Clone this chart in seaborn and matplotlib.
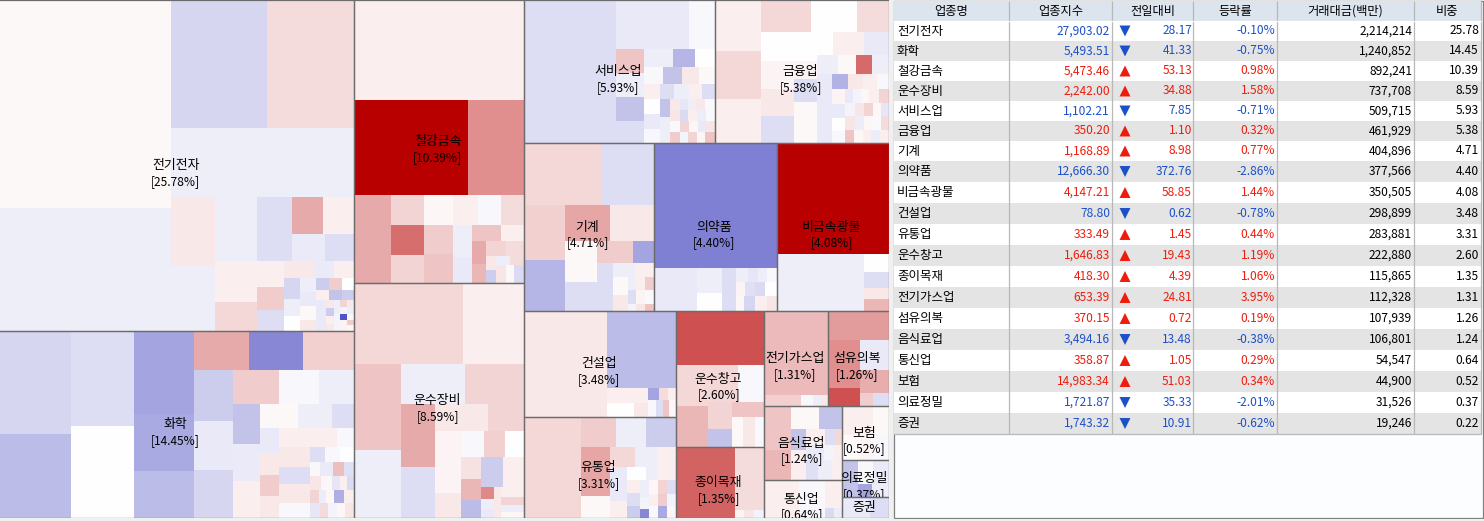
import matplotlib
matplotlib.use("Agg")
import matplotlib.pyplot as plt
from matplotlib.patches import Rectangle
import numpy as np
import pandas as pd
import seaborn as sns

# ---------- table data ----------
sectors = ["전기전자","화학","철강금속","운수장비","서비스업","금융업","기계","의약품","비금속광물","건설업",
           "유통업","운수창고","종이목재","전기가스업","섬유의복","음식료업","통신업","보험","의료정밀","증권"]
index_vals = ["27,903.02","5,493.51","5,473.46","2,242.00","1,102.21","350.20","1,168.89","12,666.30","4,147.21","78.80",
              "333.49","1,646.83","418.30","653.39","370.15","3,494.16","358.87","14,983.34","1,721.87","1,743.32"]
changes = ["28.17","41.33","53.13","34.88","7.85","1.10","8.98","372.76","58.85","0.62",
           "1.45","19.43","4.39","24.81","0.72","13.48","1.05","51.03","35.33","10.91"]
pcts = [-0.10,-0.75,0.98,1.58,-0.71,0.32,0.77,-2.86,1.44,-0.78,0.44,1.19,1.06,3.95,0.19,-0.38,0.29,0.34,-2.01,-0.62]
amounts = ["2,214,214","1,240,852","892,241","737,708","509,715","461,929","404,896","377,566","350,505","298,899",
           "283,881","222,880","115,865","112,328","107,939","106,801","54,547","44,900","31,526","19,246"]
shares = [25.78,14.45,10.39,8.59,5.93,5.38,4.71,4.40,4.08,3.48,3.31,2.60,1.35,1.31,1.26,1.24,0.64,0.52,0.37,0.22]
headers = ["업종명","업종지수","전일대비","등락률","거래대금(백만)","비중"]

# ---------- treemap data: (relative size, % change of a stock) nested in slices ----------
def X(w, *kids): return (w, "x", kids)
def Y(w, *kids): return (w, "y", kids)

t_elec = X(354,
  Y(171,(208,.09),(123,-.28)),
  Y(183,
    X(128,(96,-.67),(87,.4)),
    (68,-.28),
    X(134,
      Y(44,(69,.27),(65,-.28)),
      Y(139,
        X(64,(42,-.28),(35,-.54),Y(62,X(37,(31,1.0),(31,.2)),X(27,(33,-.33),(29,-.54)))),
        X(70,
          Y(42,(41,.2),(29,.46)),
          Y(27,(26,.2),(23,.6),(21,-.54)),
          Y(70,X(17,(30,.27),(20,-.33),(20,.2)),
            X(53,
              Y(16,(21,-.67),(17,-.28),(15,0)),
              Y(16,(14,-.28),(14,-.37),(14,.09),(11,.27)),
              Y(38,
                X(12,(13,-.84),(13,.6),(12,0)),
                X(10,(13,.2),(13,-.97),(12,-.84)),
                X(31,(10,-.37),
                  Y(8,(8,.27),(8,-.84),(8,.2),(7,.27)),
                  Y(6,(14,-.28),(17,-.2)),
                  Y(7,(7,.5),(7,-.2),(6,-2.8),(11,.15)),
                  Y(7,(7,.27),(7,-.28),(6,.1),(5,.6),(6,.1)))))))))))

t_chem = X(354,
  Y(71,(103,-.67),(84,-1.1)),
  Y(63,(95,-.55),(92,0)),
  Y(60,(83,-1.5),(57,-1.4),(47,-1.1)),
  Y(160,
    X(39,(55,1.0),(54,-1.95),(51,.55)),
    X(148,
      Y(39,(51,-.84),(49,-.37),(48,-.67)),
      Y(121,
        X(34,(46,.6),(40,-.12),(35,-.28)),
        X(114,
          Y(27,(40,-.97),(37,-.33),(37,.2)),
          Y(94,
            X(24,(38,.09),(34,-.28),(22,-.54)),
            X(90,
              Y(19,(25,-.37),(22,.27),(21,.6),(22,.27)),
              Y(75,
                X(19,(58,.2),(17,-.12)),
                X(71,
                  Y(31,(20,.27),(17,-.54),(19,.27),(15,-.12)),
                  Y(44,
                    X(15,(15,-.54),(15,-.12),(14,0)),
                    X(14,(10,-.12),(13,-.33),(11,.75),(10,-.5)),
                    X(14,(11,.3),(11,.1),(8,-.4),(7,.2),(7,-.6)),
                    X(13,(9,.5),(7,-.3),(8,.1),(10,-1.3),(10,.2)),
                    X(15,(10,-.4),(8,.4),(9,-.2),(8,.1),(9,.3))))))))))))

t_steel = Y(283,
  (100,.2),
  X(95,(114,3),(56,1.33)),
  X(88,(37,1.0),
    X(133,
      Y(33,(30,.5),(30,1.7),(28,.5)),
      Y(29,(30,.1),(29,.6),(29,.7)),
      Y(71,
        X(30,(25,.2),(23,-.12),(23,.4)),
        X(58,
          Y(19,(32,-.28),(26,-.37)),
          Y(52,X(16,(29,.7),(23,.2)),
            X(42,
              Y(14,(23,1.0),(19,.85)),
              Y(38,X(15,(20,.5),(18,.4)),
                X(27,Y(10,(14,.27),(13,-.8)),
                  Y(28,X(9,(14,-.28),(14,.4)),
                    X(18,(10,.3),(8,.1),(10,-.6))))))))))))

t_auto = Y(235,
  X(81,(109,.46),(61,.2)),
  X(154,
    Y(47,(86,.7),(68,-.28)),
    Y(123,
      X(40,(64,-.28),(59,.5)),
      X(114,
        Y(34,(63,1.0),(51,-.54)),
        Y(89,
          X(27,(53,.27),(36,.5)),
          X(87,
            Y(26,(62,.14),(25,.27)),
            Y(63,
              X(26,(23,-.12),(21,.55),(19,0)),
              X(61,
                Y(20,(22,.35),(21,.85),(18,-1.1)),
                Y(43,
                  X(30,(22,-.84),(21,.2)),
                  X(31,
                    Y(13,(12,1.4),(10,-.28),(9,-.37)),
                    Y(7,(31,.27)),
                    Y(23,(10,.2),(8,.5),(7,-.3),(6,.1))))))))))))

t_serv = X(191,
  (92,-.55),
  Y(99,
    X(49,(73,-.37),(26,-.12)),
    X(94,
      Y(28,(24,.7),(24,-.28),(24,-.97),(22,-.54)),
      Y(71,
        X(18,(29,-.28),(22,-1.2),(20,0)),
        X(17,(19,-.12),(19,-.97),(17,.27),(16,.09)),
        X(15,(16,.2),(14,-.54),(15,-.28),(13,.2),(13,-.54)),
        X(44,
          Y(16,(15,0),(15,-.37),(14,-.12)),
          Y(10,(18,-.97),(12,-.28),(14,-.28)),
          Y(45,
            X(11,(10,.27),(8,-.4),(8,-.28),(9,.27),(10,-.1)),
            X(11,(10,.3),(8,-.6),(9,.2),(9,-.3),(9,-.1)),
            X(11,(10,-.1),(9,.5),(9,.1),(8,-.37),(9,.3)),
            X(11,(10,.6),(8,-.2),(9,.5),(8,.1),(10,.7))))))))

t_fin = X(174,
  Y(46,(51,.2),(48,.46),(44,.2)),
  Y(128,
    X(32,(50,.46),(46,0),(32,.4)),
    X(111,
      Y(33,(29,0),(28,.14),(27,.27),(27,-.54)),
      Y(23,(29,0),(18,.14),(23,-.54),(41,.09)),
      Y(72,
        X(23,(16,0),(31,.2),(25,-.37)),
        X(19,(21,-.28),(18,.09),(16,1.75),(17,-.28)),
        X(15,(15,-.37),(16,-1.25),(15,.27),(14,.2),(12,-.12)),
        X(54,
          Y(15,(54,-.37)),
          Y(13,(15,.14),(14,-.37),(13,0),(12,-.12)),
          Y(44,
            X(14,(8,-.37),(8,-.2),(8,.1),(10,.2),(10,.5)),
            X(13,(10,-.2),(9,.3),(9,.5),(8,.1),(8,-.4)),
            X(14,(10,.3),(9,-.3),(8,.1),(9,-.1),(8,.4)),
            X(13,(9,.7),(9,.1),(8,.2),(9,-.3),(9,.2))))))))

t_mach = Y(168,
  X(62,(78,.46),(52,-.55)),
  X(106,
    Y(41,(55,.55),(51,-1.2)),
    Y(89,
      X(36,(45,1.05),(44,.27)),
      X(70,
        Y(32,(41,.09),(29,-.54)),
        Y(57,
          X(22,(36,.6),(21,-1.5)),
          X(48,(16,-.54),
            Y(41,
              X(14,(22,-.28),(19,.2)),
              X(34,
                Y(15,(18,.09),(16,.27)),
                Y(26,X(13,(8,-.28),(9,.2),(9,.6)),
                  X(14,(8,-.54),(9,.14),(9,-.1)),
                  X(7,(8,-.2),(9,.3),(9,.7)))))))))))

t_pharm = Y(168,
  (125,-2.1),
  X(43,(43,-.37),
    Y(25,(25,-.28),(18,0)),
    (14,-.54),
    Y(41,
      X(14,(12,-.28),(10,-.4),(9,-.28),(10,-.12)),
      X(14,(9,.14),(10,-.5),(10,-.6),(12,0)),
      X(15,(8,.1),(11,-.67),(12,.2),(10,.3)))))

t_nonm = Y(168,
  (111,3),
  X(57,(87,-.28),
    Y(25,(18,0),(16,-.54),(11,.27),(12,.85))))

t_cons = X(152,
  (83,.27),
  Y(69,
    (77,-1.1),
    X(29,
      Y(41,(15,.2),X(14,(27,0),(14,.27))),
      Y(28,
        X(12,(11,-1.5),(9,.4),(8,.2)),
        X(17,(8,-.12),(7,-.54),(6,.7),(7,.1))))))

t_dist = X(152,
  (57,.46),
  Y(95,
    X(30,(35,.6),(30,-.28),(30,-.84)),
    X(71,
      Y(29,(49,1.05),(22,.09)),
      X(66,
        Y(17,(20,.46),(34,-.37),(17,.2)),
        Y(49,
          X(20,(8,.46),(22,-.28),(19,.2)),
          X(13,(19,0),(11,-.28),(19,.2)),
          X(38,
            Y(13,(13,.2),(13,-.54),(12,-.84)),
            Y(9,(18,-.28),(11,-.2),(9,-1.95)),
            Y(27,
              X(10,(9,.1),(9,.5),(9,-.54)),
              X(9,(9,.2),(9,.6),(9,-.2)),
              X(9,(9,-.1),(9,-1.4),(9,.1)))))))))

t_trans = Y(136,
  (54,2.05),
  X(82,
    Y(32,(41,.46),(41,.85)),
    Y(56,
      X(37,(30,.46),(26,-.12)),
      X(45,
        Y(24,(27,.5),(18,-1.0)),
        Y(32,(15,.7),
          X(30,(11,.09),(12,.27),(9,-.1)))))))

t_paper = X(88,
  (59,1.85),
  Y(29,(63,.4),X(8,(9,.15),(10,.3),(10,-.2))))

t_gas = Y(95,
  (84,.8),
  X(11,(37,.55),(12,-.12),(8,-.28),(7,.27)))

t_text = Y(95,
  (29,1.15),
  X(66,
    Y(32,(48,1.33),(18,2.05)),
    Y(29,(30,-.37),(23,.95),X(13,(13,.6),(16,-.54)))))

t_food = X(78,
  Y(27,(44,.7),(30,.85)),
  Y(51,
    X(23,(28,.09),(23,-.97)),
    X(51,
      Y(15,(21,-.97),(30,.2)),
      Y(36,
        X(16,(19,.2),(10,-.54),(7,.46)),
        X(15,(18,-.37),(10,-.2),(8,.2)),
        X(20,(12,-.5),(14,-.28),(10,.2))))))

t_tele = X(78,
  (35,.2),
  (26,-.12),
  Y(17,(28,.2),X(10,(9,-.6),(8,-.3))))

t_ins = Y(54,
  X(29,(31,.2),(16,.09)),
  X(25,(18,.05),(13,.12),(16,-.12)))

t_med = Y(37,
  X(24,(16,-.97),(15,-.12),(16,-.37)),
  X(13,(16,-.97),(14,-1.5),(17,-.3)))

t_sec = X(47,
  (28,-.37),
  (19,-.54))

sector_trees = dict(zip(sectors,[t_elec,t_chem,t_steel,t_auto,t_serv,t_fin,t_mach,t_pharm,t_nonm,t_cons,
                                 t_dist,t_trans,t_paper,t_gas,t_text,t_food,t_tele,t_ins,t_med,t_sec]))

# slice-and-dice arrangement of the sectors; strings refer to sector_trees
layout = X(889,
  Y(354, "전기전자|331", "화학|187"),
  Y(170, "철강금속|283", "운수장비|235"),
  Y(365,
    X(143, "서비스업|191", "금융업|174"),
    X(168, "기계|130", "의약품|123", "비금속광물|112"),
    X(207,
      Y(152, "건설업|106", "유통업|101"),
      Y(88, "운수창고|136", "종이목재|71"),
      Y(125,
        X(95, "전기가스업|64", "섬유의복|61"),
        X(112,
          Y(78, "음식료업|74", "통신업|38"),
          Y(47, "보험|54", "의료정밀|37", "증권|21"))))))

# ---------- style ----------
sns.set_theme(style="white")
KR = ["Noto Sans CJK KR", "DejaVu Sans"]
plt.rcParams["font.family"] = KR
heat = sns.blend_palette(["#4848c0", "#ffffff", "#b80000"], n_colors=257, as_cmap=True)
def colour(v):
    return heat((np.clip(v, -3, 3) + 3) / 6)

W, H = 1484, 521
fig = plt.figure(figsize=(W/100, H/100), dpi=100, facecolor="#f0f0f0")

# ---------- treemap ----------
ax = fig.add_axes([0, (H-518)/H, 889/W, 518/H])
ax.set_xlim(0, 1); ax.set_ylim(1, 0); ax.axis("off")
outlines = []

def draw(node, x0, y0, x1, y1):
    if isinstance(node[1], (int, float)):
        ax.add_patch(Rectangle((x0, y0), x1-x0, y1-y0, facecolor=colour(node[1]),
                               edgecolor="none", linewidth=0, antialiased=False))
        return
    _, d, kids = node
    weights = []
    for k in kids:
        weights.append(float(k.split("|")[1]) if isinstance(k, str) else float(k[0]))
    edges = np.cumsum([0] + weights) / sum(weights)
    for k, a, b in zip(kids, edges[:-1], edges[1:]):
        if d == "x":
            box = (x0 + a*(x1-x0), y0, x0 + b*(x1-x0), y1)
        else:
            box = (x0, y0 + a*(y1-y0), x1, y0 + b*(y1-y0))
        if isinstance(k, str):
            name = k.split("|")[0]
            draw(sector_trees[name], *box)
            outlines.append((name, box))
        else:
            draw(k, *box)

draw(layout, 0, 0, 1, 1)

for name, (x0, y0, x1, y1) in outlines:
    # the outer left edge of the map carries no rule
    left = -0.02 if x0 == 0 else x0
    r = Rectangle((left, y0), x1-left, y1-y0, fill=False, edgecolor="#6c6c6c", linewidth=0.9, zorder=5)
    ax.add_patch(r)
    clip = Rectangle((x0, y0), x1-x0, y1-y0, transform=ax.transData)
    share = shares[sectors.index(name)]
    cx, cy = (x0+x1)/2, (y0+y1)/2
    for txt, off, fs in ((name, 0, 9.3), (f"[{share:.2f}%]", -11.3, 8.6)):
        t = ax.annotate(txt, (cx, cy), xytext=(-1, off), textcoords="offset points",
                        ha="center", va="center", fontsize=fs, color="#000000", zorder=6)
        t.set_clip_path(clip)
        t.set_clip_on(True)

# ---------- table ----------
tb = fig.add_axes([893/W, (H-519)/H, (W-893)/W, 519/H])
tb.set_xlim(893, W); tb.set_ylim(519, 0); tb.axis("off")
tb.add_patch(Rectangle((893.5, 0.5), 589.5, 517.5, facecolor="#fcfdff", edgecolor="#808080", linewidth=0.9))

col_edges = [894, 1009, 1112, 1193, 1277, 1414, 1481]
row_heights = [20]*7 + [21]*13
row_edges = np.cumsum([21] + row_heights)
row_mid = (row_edges[:-1] + row_edges[1:]) / 2
BLUE, RED = "#1c50c8", "#ee1c0c"

tb.add_patch(Rectangle((894, 1), 587, 20, facecolor="#dce4ee", edgecolor="none"))
for i in range(len(sectors)):
    tb.add_patch(Rectangle((894, row_edges[i]), 587, row_heights[i],
                           facecolor="#e4e4e4" if i % 2 == 1 else "#ffffff", edgecolor="none"))
for x in col_edges[1:]:
    tb.plot([x, x], [1, row_edges[-1]], color="#b8b8b8", lw=0.9, solid_capstyle="butt")
tb.plot([894, 1481], [row_edges[-1], row_edges[-1]], color="#b8b8b8", lw=0.9)
tb.plot([894, 1481], [21, 21], color="#ffffff", lw=0.9)

for h, a, b in zip(headers, col_edges[:-1], col_edges[1:]):
    tb.text((a+b)/2, 11, h, ha="center", va="center", fontsize=8.8, color="#000000")

NUM = 8.6
for i, y in enumerate(row_mid):
    c = RED if pcts[i] > 0 else BLUE
    tb.text(897, y, sectors[i], ha="left", va="center", fontsize=9.0, color="#000000")
    tb.text(1110, y, index_vals[i], ha="right", va="center", fontsize=NUM, color=c)
    tb.text(1192, y, changes[i], ha="right", va="center", fontsize=NUM, color=c)
    tb.text(1275, y, f"{pcts[i]:.2f}%", ha="right", va="center", fontsize=NUM, color=c)
    tb.text(1412, y, amounts[i], ha="right", va="center", fontsize=NUM, color="#000000")
    tb.text(1479, y, f"{shares[i]:.2f}", ha="right", va="center", fontsize=NUM, color="#000000")

df = pd.DataFrame({"x": [1125]*len(sectors), "y": row_mid,
                   "dir": ["up" if p > 0 else "down" for p in pcts]})
sns.scatterplot(data=df, x="x", y="y", hue="dir", style="dir",
                markers={"up": "^", "down": "v"},
                palette={"up": RED, "down": BLUE}, s=62, linewidth=0, legend=False, ax=tb)
tb.axis("off")
tb.set_xlim(893, W); tb.set_ylim(519, 0)

fig.savefig("out.png", dpi=100, facecolor=fig.get_facecolor())
